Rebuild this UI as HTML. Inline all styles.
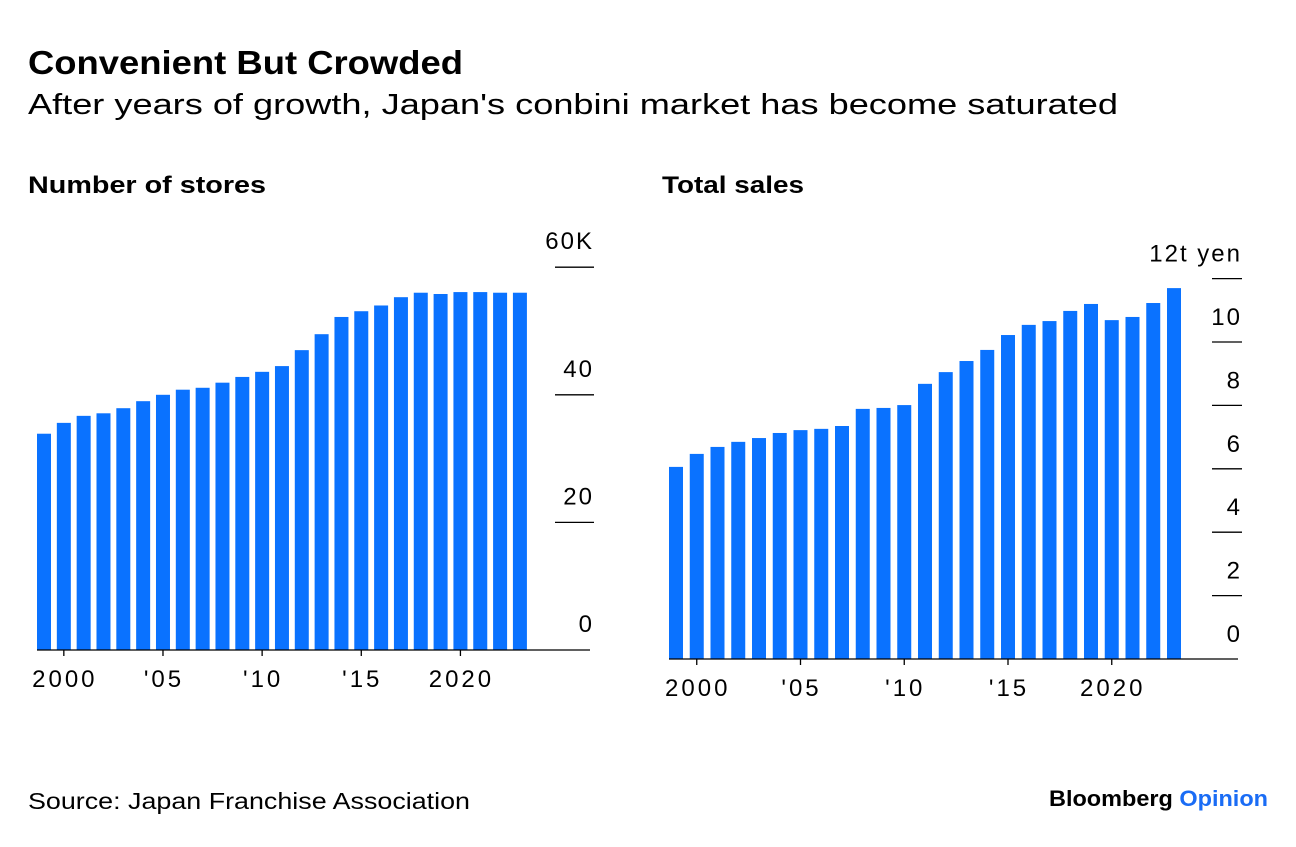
<!DOCTYPE html>
<html><head><meta charset="utf-8"><style>
body{margin:0;width:1296px;height:842px;background:#fff;font-family:"Liberation Sans",sans-serif;color:#000;overflow:hidden}
svg text{font-family:"Liberation Sans",sans-serif}
</style></head><body>
<svg width="1296" height="842">
<text x="28" y="74" font-size="33" font-weight="bold" textLength="435" lengthAdjust="spacingAndGlyphs">Convenient But Crowded</text>
<text x="28" y="114" font-size="29" textLength="1090" lengthAdjust="spacingAndGlyphs">After years of growth, Japan's conbini market has become saturated</text>
<text x="28" y="193" font-size="24" font-weight="bold" textLength="238" lengthAdjust="spacingAndGlyphs">Number of stores</text>
<text x="662" y="193" font-size="24" font-weight="bold" textLength="142" lengthAdjust="spacingAndGlyphs">Total sales</text>
<g id="left"></g>
<g id="right"></g>
<text x="28" y="809" font-size="23" textLength="442" lengthAdjust="spacingAndGlyphs">Source: Japan Franchise Association</text>
<text x="1049" y="806" font-size="22" font-weight="bold" textLength="219" lengthAdjust="spacingAndGlyphs">Bloomberg <tspan fill="#1a6cf5">Opinion</tspan></text>
</svg>
<script>
const years=[1999,2000,2001,2002,2003,2004,2005,2006,2007,2008,2009,2010,2011,2012,2013,2014,2015,2016,2017,2018,2019,2020,2021,2022,2023];
const stores=[33.9,35.6,36.7,37.1,37.9,39.0,40.0,40.8,41.1,41.9,42.8,43.6,44.5,47.0,49.5,52.2,53.1,54.0,55.3,56.0,55.8,56.1,56.1,56.0,56.0];
const sales=[6.06,6.47,6.69,6.85,6.97,7.13,7.22,7.26,7.35,7.89,7.92,8.01,8.68,9.05,9.40,9.75,10.22,10.54,10.66,10.98,11.2,10.69,10.79,11.23,11.70];
const storeTicks=[0,20,40,60];
const storeTickLabels=["0","20","40","60K"];
const salesTicks=[0,2,4,6,8,10,12];
const salesTickLabels=["0","2","4","6","8","10","12t yen"];
const xTickYears=[2000,2005,2010,2015,2020];
const xTickLabels=["2000","'05","'10","'15","2020"];
const NS="http://www.w3.org/2000/svg";
function mk(p,t,a){const e=document.createElementNS(NS,t);for(const k in a)e.setAttribute(k,a[k]);p.appendChild(e);return e;}
function draw(gid,vals,ticks,tlabels,o){
 const g=document.getElementById(gid);
 const x=yr=>o.x0+(yr-1999)*o.step;
 const y=v=>o.base-v*o.ppu;
 vals.forEach((v,i)=>{const r=mk(g,'rect',{x:x(years[i])-o.bw/2,y:y(v),width:o.bw,height:o.base-y(v),fill:'#0a72ff'});
 
 });
 const ax=mk(g,'line',{x1:o.ax1,x2:o.ax2,y1:o.base,y2:o.base,stroke:'#000','stroke-width':1.3});
 
 
 ticks.forEach((t,i)=>{
  if(t>0){const l=mk(g,'line',{x1:o.tx1,x2:o.tx2,y1:y(t),y2:y(t),stroke:'#000','stroke-width':1.3});
  
  }
  const tx=mk(g,'text',{x:o.tx2,y:y(t)-o.lo,'font-size':24,'letter-spacing':2,'text-anchor':'end'});tx.textContent=tlabels[i];
  
  
 });
 xTickYears.forEach((yr,i)=>{
  const l=mk(g,'line',{x1:x(yr),x2:x(yr),y1:o.base,y2:o.base+6,stroke:'#000','stroke-width':1.3});
  
  
  const tx=mk(g,'text',{x:x(yr)+1,y:o.base+37,'font-size':24,'letter-spacing':3,'text-anchor':'middle'});tx.textContent=xTickLabels[i];
  
  
 });
}
draw('left',stores,storeTicks,storeTickLabels,{x0:44,step:19.83,bw:14,base:650,ppu:6.38,ax1:37,ax2:590,tx1:555,tx2:594,lo:18});
draw('right',sales,salesTicks,salesTickLabels,{x0:676,step:20.75,bw:14,base:659,ppu:31.7,ax1:669,ax2:1238,tx1:1212,tx2:1242,lo:17});
</script>
</body></html>
